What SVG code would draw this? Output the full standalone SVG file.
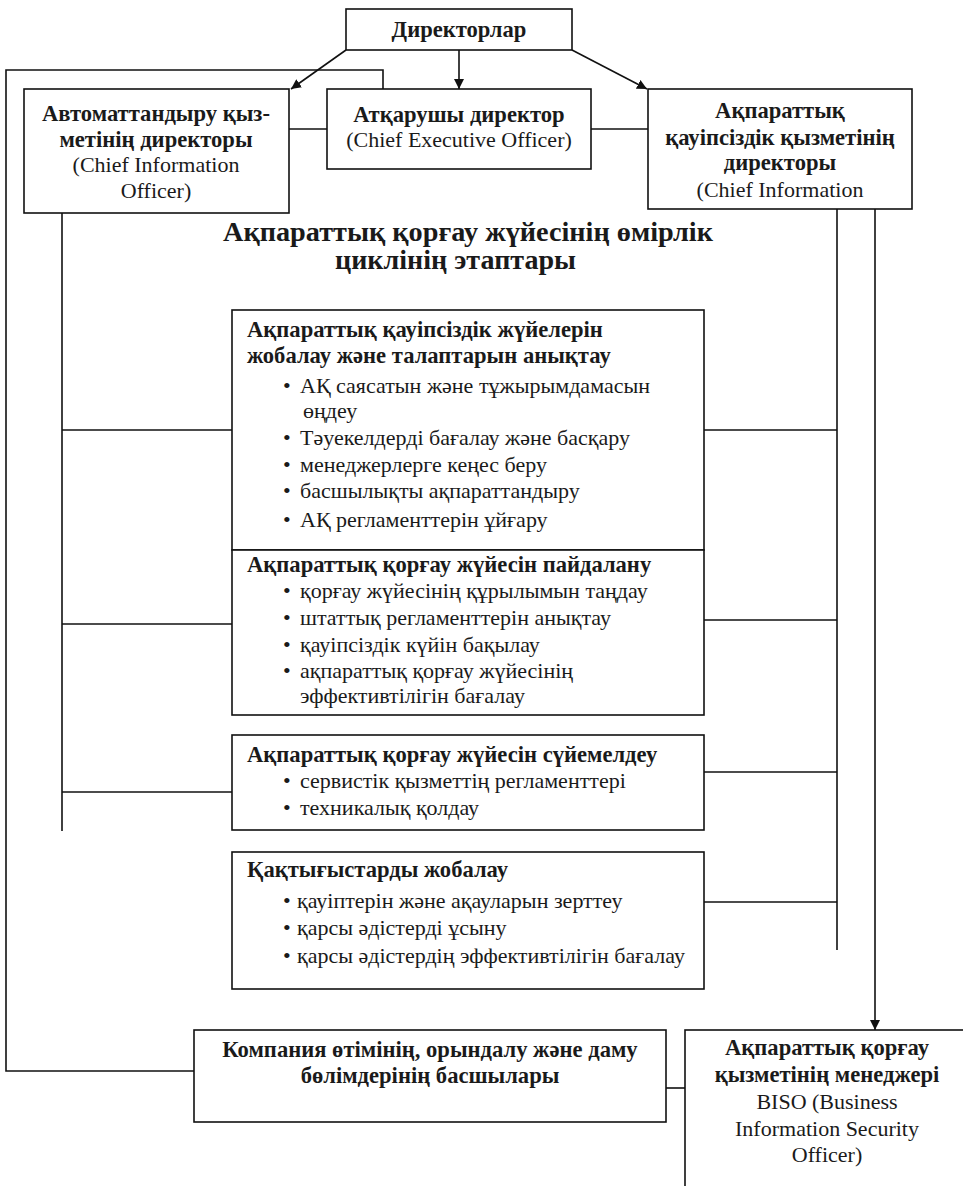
<svg xmlns="http://www.w3.org/2000/svg" width="963" height="1186" viewBox="0 0 963 1186">
  <defs>
    <marker id="arrow" viewBox="0 0 10 10" refX="10" refY="5" markerWidth="10" markerHeight="10" markerUnits="userSpaceOnUse" orient="auto">
      <path d="M0,0 L10,5 L0,10 Z" fill="#111"/>
    </marker>
    <style>
      .box { fill: #fff; stroke: #111; stroke-width: 1.6; }
      .ln { fill: none; stroke: #111; stroke-width: 1.6; }
      text { font-family: "Liberation Serif", "DejaVu Serif", serif; font-size: 22px; fill: #1a1a1a; }
      .b { font-weight: bold; font-size: 22.6px; }
      .c { text-anchor: middle; }
      .title { font-size: 28px; font-weight: bold; }
    </style>
  </defs>
  <rect width="963" height="1186" fill="#fff"/>

  <!-- connectors -->
  <g id="connectors">
    <line class="ln" x1="346" y1="50" x2="291" y2="89" marker-end="url(#arrow)"/>
    <line class="ln" x1="459" y1="50" x2="459" y2="89" marker-end="url(#arrow)"/>
    <line class="ln" x1="572" y1="50" x2="647" y2="89" marker-end="url(#arrow)"/>
    <line class="ln" x1="289" y1="129" x2="327" y2="129"/>
    <line class="ln" x1="591" y1="129" x2="648" y2="129"/>
    <polyline class="ln" points="383,89 383,70 6,70 6,1071 194,1071"/>
    <line class="ln" x1="62" y1="213" x2="62" y2="831"/>
    <line class="ln" x1="62" y1="430" x2="232" y2="430"/>
    <line class="ln" x1="62" y1="624" x2="232" y2="624"/>
    <line class="ln" x1="62" y1="792" x2="232" y2="792"/>
    <line class="ln" x1="837" y1="209" x2="837" y2="950"/>
    <line class="ln" x1="704" y1="430" x2="837" y2="430"/>
    <line class="ln" x1="704" y1="620" x2="837" y2="620"/>
    <line class="ln" x1="704" y1="772" x2="837" y2="772"/>
    <line class="ln" x1="704" y1="902" x2="837" y2="902"/>
    <line class="ln" x1="875" y1="209" x2="875" y2="1030" marker-end="url(#arrow)"/>
    <line class="ln" x1="666" y1="1088" x2="685" y2="1088"/>
  </g>

  <g id="directors">
    <rect class="box" x="346" y="9" width="226" height="41"/>
    <text class="b c" x="459" y="37">Директорлар</text>
  </g>

  <g id="cio">
    <rect class="box" x="24" y="89" width="265" height="124"/>
    <text class="b c" x="156" y="121">Автоматтандыру қыз-</text>
    <text class="b c" x="156" y="147">метінің директоры</text>
    <text class="c" x="156" y="172">(Chief Information</text>
    <text class="c" x="156" y="198">Officer)</text>
  </g>

  <g id="ceo">
    <rect class="box" x="327" y="89" width="264" height="80"/>
    <text class="b c" x="459" y="122">Атқарушы директор</text>
    <text class="c" x="459" y="147">(Chief Executive Officer)</text>
  </g>

  <g id="ciso">
    <rect class="box" x="648" y="89" width="264" height="120"/>
    <text class="b c" x="780" y="118">Ақпараттық</text>
    <text class="b c" x="780" y="145">қауіпсіздік қызметінің</text>
    <text class="b c" x="780" y="170">директоры</text>
    <text class="c" x="780" y="197">(Chief Information</text>
  </g>

  <g id="title">
    <text class="title" x="223" y="241" textLength="490" lengthAdjust="spacingAndGlyphs">Ақпараттық қорғау жүйесінің өмірлік</text>
    <text class="title" x="335" y="269" textLength="241" lengthAdjust="spacingAndGlyphs">циклінің этаптары</text>
  </g>

  <g id="stage-design">
    <rect class="box" x="232" y="310" width="472" height="240"/>
    <text class="b" x="247" y="337">Ақпараттық қауіпсіздік жүйелерін</text>
    <text class="b" x="247" y="363">жобалау және талаптарын анықтау</text>
    <text x="283" y="393">•</text><text x="300" y="393">АҚ саясатын және тұжырымдамасын</text>
    <text x="303" y="418">өңдеу</text>
    <text x="283" y="445">•</text><text x="300" y="445">Тәуекелдерді бағалау және басқару</text>
    <text x="283" y="472">•</text><text x="300" y="472">менеджерлерге кеңес беру</text>
    <text x="283" y="498">•</text><text x="300" y="498">басшылықты ақпараттандыру</text>
    <text x="283" y="527">•</text><text x="300" y="527">АҚ регламенттерін ұйғару</text>
  </g>

  <g id="stage-operation">
    <rect class="box" x="232" y="550" width="472" height="165"/>
    <text class="b" x="247" y="572">Ақпараттық қорғау жүйесін пайдалану</text>
    <text x="283" y="598">•</text><text x="300" y="598">қорғау жүйесінің құрылымын таңдау</text>
    <text x="283" y="625">•</text><text x="300" y="625">штаттық регламенттерін анықтау</text>
    <text x="283" y="652">•</text><text x="300" y="652">қауіпсіздік күйін бақылау</text>
    <text x="283" y="678">•</text><text x="300" y="678">ақпараттық қорғау жүйесінің</text>
    <text x="300" y="703">эффективтілігін бағалау</text>
  </g>

  <g id="stage-support">
    <rect class="box" x="232" y="735" width="472" height="95"/>
    <text class="b" x="247" y="762">Ақпараттық қорғау жүйесін сүйемелдеу</text>
    <text x="283" y="788">•</text><text x="300" y="788">сервистік қызметтің регламенттері</text>
    <text x="283" y="815">•</text><text x="300" y="815">техникалық қолдау</text>
  </g>

  <g id="stage-incidents">
    <rect class="box" x="232" y="852" width="472" height="137"/>
    <text class="b" x="247" y="877">Қақтығыстарды жобалау</text>
    <text x="283" y="908">•</text><text x="297" y="908">қауіптерін және ақауларын зерттеу</text>
    <text x="283" y="935">•</text><text x="297" y="935">қарсы әдістерді ұсыну</text>
    <text x="283" y="963">•</text><text x="297" y="963">қарсы әдістердің эффективтілігін бағалау</text>
  </g>

  <g id="unit-heads">
    <rect class="box" x="194" y="1030" width="472" height="92"/>
    <text class="b c" x="430" y="1057">Компания өтімінің, орындалу және даму</text>
    <text class="b c" x="430" y="1083">бөлімдерінің басшылары</text>
  </g>

  <g id="biso">
    <rect class="box" x="685" y="1030" width="300" height="170"/>
    <text class="b c" x="827" y="1055">Ақпараттық қорғау</text>
    <text class="b c" x="827" y="1082">қызметінің менеджері</text>
    <text class="c" x="827" y="1109">BISO (Business</text>
    <text class="c" x="827" y="1136">Information Security</text>
    <text class="c" x="827" y="1162">Officer)</text>
  </g>
</svg>
